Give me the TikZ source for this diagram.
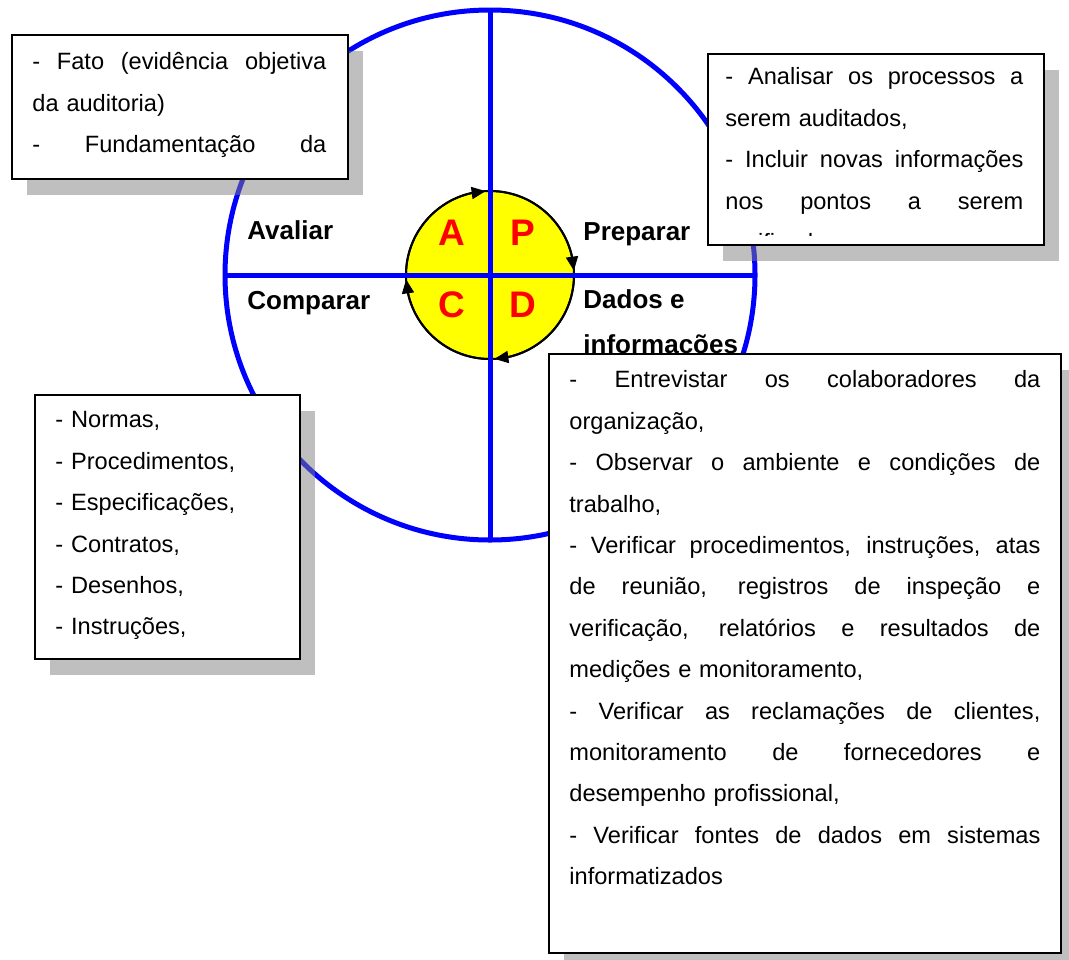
\documentclass[tikz,border=0pt]{standalone}
\usepackage{fontspec}
\setmainfont{Liberation Sans}
\usetikzlibrary{calc}
\usetikzlibrary{shadows}
\usetikzlibrary{arrows.meta}
\usetikzlibrary{bending}
\setlength{\parindent}{0pt}
\newlength{\notew}
\definecolor{cycleblue}{RGB}{0,0,255}
\definecolor{cycleyellow}{RGB}{255,255,0}
\definecolor{cyclered}{RGB}{255,0,0}
\tikzstyle{axisline}=[cycleblue,line width=2.5pt]
\tikzstyle{cyclearrow}=[-{Triangle[length=7pt,width=6pt]},line width=1pt]
\tikzstyle{cycleletter}=[text=cyclered,inner sep=0pt,font=\fontsize{18.5}{18.5}\selectfont\bfseries]
\tikzstyle{steplabel}=[inner sep=0pt,anchor=base west,font=\fontsize{13}{22.5}\selectfont\bfseries]
\tikzstyle{notebox}=[draw,line width=1pt,fill=white,inner sep=0pt,anchor=north west,
  drop shadow={shadow xshift=7.5pt,shadow yshift=-8pt,fill=black!50,opacity=0.5}]
\tikzstyle{notetext}=[inner sep=0pt,anchor=north west,align=left,text width=#1,
  execute at begin node={\setlength{\notew}{#1}},font=\fontsize{11.8}{20.7}\selectfont]
\pgfmathsetmacro{\rbig}{265}
\pgfmathsetmacro{\rcyc}{84}
% justified line: spaces must stretch again
\newcommand{\jl}[1]{\makebox[\notew][s]{\spaceskip=0pt\xspaceskip=0pt #1}}
\newcommand{\drawnote}[5]{
% #1 name, (#2,#3) top left, (#4,#5) bottom right
\pgfmathsetmacro{\wnote}{(#4-#2)/2}
\pgfmathsetmacro{\hnote}{(#5-#3)/2}
\node[notebox,minimum width=\wnote*1pt,minimum height=\hnote*1pt] (#1) at (#2,#3) {};
}

\begin{document}
\begin{tikzpicture}[x=0.5pt,y=-0.5pt]
  \useasboundingbox (0,0) rectangle (1069,959);
  \coordinate (cyc) at (490,275);
  \begin{scope}[shift={(cyc)}]
  \draw[axisline] (0,0) circle (\rbig);
  \filldraw[fill=cycleyellow,line width=1pt] (0,0) circle (\rcyc);
  \foreach \a in {0,90,180,270} {
    \draw[cyclearrow] (\a:\rcyc) arc[start angle=\a,delta angle=87,radius=\rcyc];
  }
  \draw[axisline] (180:\rbig) -- (0:\rbig);
  \draw[axisline] (270:\rbig) -- (90:\rbig);
  \end{scope}
  \foreach \l/\x/\y in {A/452/233,P/523/233,C/452/305,D/523/305} {
    \node[cycleletter] (\l) at (\x,\y) {\l};
  }
  \node[steplabel] (avaliar) at (247,239) {Avaliar};
  \node[steplabel] (preparar) at (583,240) {Preparar};
  \node[steplabel] (comparar) at (247,309) {Comparar};
  \node[steplabel,anchor=north west,align=left] (dados) at (583,276.5) {\strut Dados e\\informações};
  % boxes
  \drawnote{fato}{11}{34}{347}{178}
  \begin{scope}
  \clip (fato.north west) rectangle ($(fato.south east)+(0,-11)$);
  \node[notetext=147pt] (fatotext) at (32,40.6) {\strut\jl{- Fato (evidência objetiva}\\
    da auditoria)\\
    \jl{- Fundamentação da}};
  \end{scope}
  \drawnote{analise}{707}{53}{1043}{244}
  \begin{scope}
  \clip (analise.north west) rectangle ($(analise.south east)+(0,-11)$);
  \node[notetext=149pt] (analisetext) at (725,55.6) {\strut\jl{- Analisar os processos a}\\
    serem auditados,\\
    \jl{- Incluir novas informações}\\
    \jl{nos pontos a serem}\\
    verificados};
  \end{scope}
  \drawnote{normas}{34}{394}{299}{658}
  \node[notetext=115pt] (normastext) at (55,398.6) {\strut- Normas,\\
    - Procedimentos,\\
    - Especificações,\\
    - Contratos,\\
    - Desenhos,\\
    - Instruções,};
  \drawnote{coleta}{548}{353}{1060}{952}
  \node[notetext=235.5pt] (coletatext) at (569,358.6) {\strut\jl{- Entrevistar os colaboradores da}\\
    organização,\\
    \jl{- Observar o ambiente e condições de}\\
    trabalho,\\
    \jl{- Verificar procedimentos, instruções, atas}\\
    \jl{de reunião, registros de inspeção e}\\
    \jl{verificação, relatórios e resultados de}\\
    medições e monitoramento,\\
    \jl{- Verificar as reclamações de clientes,}\\
    \jl{monitoramento de fornecedores e}\\
    desempenho profissional,\\
    \jl{- Verificar fontes de dados em sistemas}\\
    informatizados};
\end{tikzpicture}
\end{document}
